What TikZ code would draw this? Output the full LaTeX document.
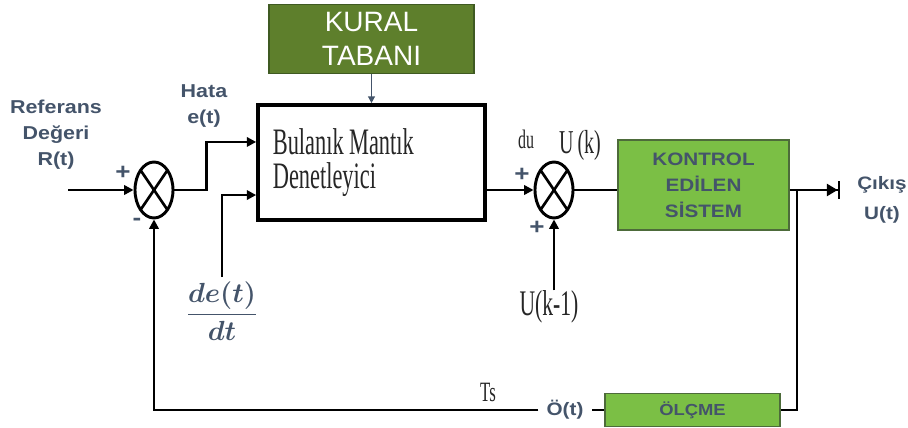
\documentclass[tikz,border=0pt]{standalone}
\usepackage{fontspec}
\usepackage{amsmath}
\setmainfont{Liberation Serif}
\newfontfamily\lblsans[FakeStretch=1.15]{Liberation Sans}
\newfontfamily\plainsans{Liberation Sans}
\newfontfamily\condserif[FakeStretch=0.6]{Liberation Serif}
\usetikzlibrary{arrows.meta,positioning,shapes.geometric}
\definecolor{slate}{HTML}{44546A}
\definecolor{kuralgreen}{HTML}{5E7F2C}
\definecolor{kuraledge}{HTML}{3F5A22}
\definecolor{sysgreen}{HTML}{7BBF45}
\definecolor{sysedge}{HTML}{4D6B3A}

\begin{document}
\begin{tikzpicture}[x=0.75pt,y=-0.75pt,>={Triangle[length=7pt,width=7pt]},
  wire/.style={line width=1.7pt},
  wirearr/.style={line width=1.7pt,->},
  lbl/.style={text=slate,font=\lblsans\bfseries\fontsize{14}{19.5}\selectfont,align=center,inner sep=0pt},
  sgn/.style={text=slate,font=\lblsans\bfseries\fontsize{17}{17}\selectfont,inner sep=0pt},
  ser/.style={text=black!85,inner sep=0pt},
  sumnode/.style={draw,ellipse,line width=2.2pt,minimum width=28.5pt,minimum height=42pt,inner sep=0pt,
    path picture={\draw[line width=2pt] (path picture bounding box.north west) -- (path picture bounding box.south east) (path picture bounding box.north east) -- (path picture bounding box.south west);}}]
  \useasboundingbox (0,0) rectangle (908,428);
  % blocks
  \node[draw,line width=3pt,minimum width=170pt,minimum height=86pt,text width=148pt,inner xsep=11pt,align=left,ser,font=\condserif\fontsize{28}{26}\selectfont] (bmd) at (371.5,162.5) {Bulanık\hspace{4pt}Mantık\\Denetleyici};
  \node[draw=kuraledge,fill=kuralgreen,line width=1.2pt,minimum width=153.75pt,minimum height=51.75pt,above=21.75pt of bmd,text=white,font=\plainsans\fontsize{21}{26}\selectfont,align=center] (kural) {KURAL\\TABANI};
  \node[sumnode] (sum1) at (154,190) {};
  \node[sumnode] (sum2) at (554,190) {};
  \node[draw=sysedge,fill=sysgreen,line width=1.2pt,minimum width=128pt,minimum height=67.5pt,lbl,font=\lblsans\bfseries\fontsize{13.5}{19.5}\selectfont] (sys) at (703.5,185) {KONTROL\\EDİLEN\\SİSTEM};
  \node[draw=sysedge,fill=sysgreen,line width=1.2pt,minimum width=131.25pt,minimum height=24.75pt,lbl,font=\lblsans\bfseries\fontsize{12}{14}\selectfont] (olcme) at (692.5,410) {ÖLÇME};
  % labels
  \node[lbl] (ref) at (56,135) {Referans\\Değeri\\R(t)};
  \node[lbl] (hata) at (204,106) {Hata\\e(t)};
  \node[lbl,font=\lblsans\bfseries\fontsize{13.5}{23}\selectfont] (cikis) at (882,200) {Çıkış\\U(t)};
  \node[lbl,inner xsep=6pt,font=\lblsans\bfseries\fontsize{13.5}{16}\selectfont] (ot) at (565,410) {Ö(t)};
  \node[text=slate,font=\fontsize{20.74}{24}\selectfont] (dedt) at (222,311) {$\displaystyle\frac{\boldsymbol{de(t)}}{\boldsymbol{dt}}$};
  \node[ser,font=\condserif\fontsize{27}{27}\selectfont] (uk1) at (549,307) {U(k-1)};
  \node[ser,font=\condserif\fontsize{25}{25}\selectfont] (uk) at (580,145) {U\hspace{3pt}(k)};
  \node[ser,font=\condserif\fontsize{20}{20}\selectfont] (du) at (526,139) {du};
  \node[ser,font=\condserif\fontsize{21}{21}\selectfont] (ts) at (488,392) {Ts};
  \node[sgn] (p1) at (123,173) {+};
  \node[sgn] (m1) at (137,222) {-};
  \node[sgn] (p2) at (522,175) {+};
  \node[sgn] (p3) at (537,228) {+};
  \coordinate (rin) at (68,190);
  \coordinate (yout) at (840,190);
  \coordinate (br) at (797,190);
  % connectors
  \draw[wirearr] (rin) -- (sum1);
  \draw[wirearr] (sum1.east) -- ++(32,0) |- ([yshift=15.4pt]bmd.west);
  \draw[wirearr] (dedt.north) |- ([yshift=-24.4pt]bmd.west);
  \draw[slate,line width=1.1pt,-{Triangle[length=5pt,width=5pt]}] (kural) -- (bmd);
  \draw[wirearr] (bmd.east |- sum2) -- (sum2);
  \draw[wirearr] (uk1.north -| sum2) -- (sum2);
  \draw[wire] (sum2) -- (sum2 -| sys.west);
  \draw[wire,-{Triangle[length=8pt,width=9pt]Bar[width=13pt,line width=1.8pt]}] (sys.east |- yout) -- (yout);
  \draw[wire] (br) |- (olcme);
  \draw[wire] (olcme) -- (ot);
  \draw[wirearr] (ot) -| (sum1);
\end{tikzpicture}
\end{document}
